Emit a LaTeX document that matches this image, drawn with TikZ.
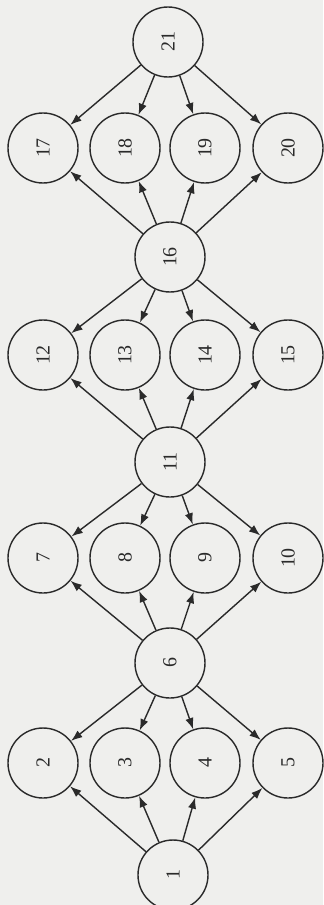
\documentclass[tikz,border=0pt]{standalone}
\usepackage{fontspec}
\setmainfont{Liberation Serif}
\usepackage{xcolor}
\usepackage{tikz}
\usetikzlibrary{arrows.meta}
\definecolor{ink}{HTML}{2A2A2A}
\definecolor{paper}{HTML}{EFEFED}

\begin{document}
\begin{tikzpicture}[
    x=0.3mm, y=-0.3mm,
    vert/.style={circle, draw=ink, line width=1.2pt, fill=paper, minimum size=21mm, inner sep=0pt, rotate=90, font=\fontsize{17}{19}\selectfont, text=ink},
    arr/.style={-{Latex[length=3.4mm, width=2.5mm]}, line width=1.2pt, draw=ink}
]
    % page
    \fill[paper] (0,0) rectangle (323,905);
    \useasboundingbox (0,0) rectangle (323,905);

    % vertices, from top to bottom
    \node[vert] (v21) at (168,42) {21};
    \node[vert] (v17) at (43,148) {17};
    \node[vert] (v18) at (125,148) {18};
    \node[vert] (v19) at (205,148) {19};
    \node[vert] (v20) at (288,148) {20};
    \node[vert] (v16) at (170,257) {16};
    \node[vert] (v12) at (43,355) {12};
    \node[vert] (v13) at (125,355) {13};
    \node[vert] (v14) at (205,355) {14};
    \node[vert] (v15) at (288,355) {15};
    \node[vert] (v11) at (170,462) {11};
    \node[vert] (v7) at (43,558) {7};
    \node[vert] (v8) at (125,558) {8};
    \node[vert] (v9) at (205,558) {9};
    \node[vert] (v10) at (288,558) {10};
    \node[vert] (v6) at (170,663) {6};
    \node[vert] (v2) at (43,763) {2};
    \node[vert] (v3) at (125,763) {3};
    \node[vert] (v4) at (205,763) {4};
    \node[vert] (v5) at (288,763) {5};
    \node[vert] (v1) at (173,875) {1};

    % arcs
    \draw[arr] (v1) -- (v2);
    \draw[arr] (v1) -- (v3);
    \draw[arr] (v1) -- (v4);
    \draw[arr] (v1) -- (v5);
    \draw[arr] (v6) -- (v2);
    \draw[arr] (v6) -- (v3);
    \draw[arr] (v6) -- (v4);
    \draw[arr] (v6) -- (v5);
    \draw[arr] (v6) -- (v7);
    \draw[arr] (v6) -- (v8);
    \draw[arr] (v6) -- (v9);
    \draw[arr] (v6) -- (v10);
    \draw[arr] (v11) -- (v7);
    \draw[arr] (v11) -- (v8);
    \draw[arr] (v11) -- (v9);
    \draw[arr] (v11) -- (v10);
    \draw[arr] (v11) -- (v12);
    \draw[arr] (v11) -- (v13);
    \draw[arr] (v11) -- (v14);
    \draw[arr] (v11) -- (v15);
    \draw[arr] (v16) -- (v12);
    \draw[arr] (v16) -- (v13);
    \draw[arr] (v16) -- (v14);
    \draw[arr] (v16) -- (v15);
    \draw[arr] (v16) -- (v17);
    \draw[arr] (v16) -- (v18);
    \draw[arr] (v16) -- (v19);
    \draw[arr] (v16) -- (v20);
    \draw[arr] (v21) -- (v17);
    \draw[arr] (v21) -- (v18);
    \draw[arr] (v21) -- (v19);
    \draw[arr] (v21) -- (v20);
\end{tikzpicture}
\end{document}
